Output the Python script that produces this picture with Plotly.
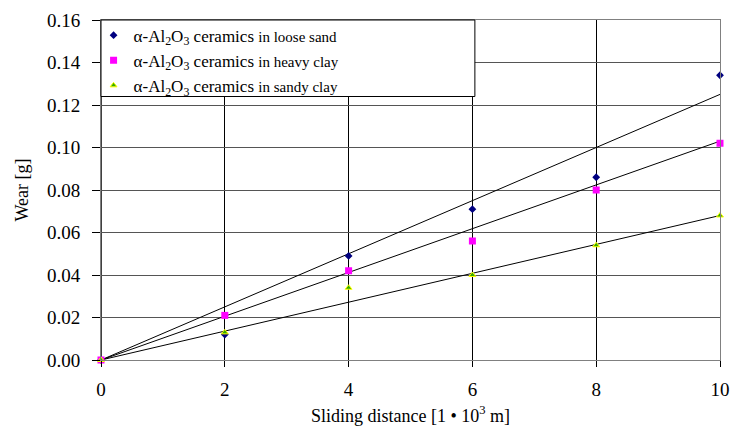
import plotly.graph_objects as go

distance = [0, 2, 4, 6, 8, 10]
loose_sand = [0.0, 0.012, 0.049, 0.071, 0.086, 0.134]
heavy_clay = [0.0, 0.021, 0.042, 0.056, 0.080, 0.102]
sandy_clay = [0.0, 0.013, 0.034, 0.040, 0.054, 0.068]

trend_x = [0, 10]
trend_loose = [0.0, 0.125]
trend_heavy = [0.0, 0.103]
trend_sandy = [0.0, 0.068]

y_ticks = [0.00, 0.02, 0.04, 0.06, 0.08, 0.10, 0.12, 0.14, 0.16]
x_ticks = [0, 2, 4, 6, 8, 10]

FONT = "Liberation Serif"

def label(where):
    return ("α-Al<sub>2</sub>O<sub>3</sub> ceramics "
            f"<span style='font-size:15px'>{where}</span>")

fig = go.Figure()

for ty in (trend_loose, trend_heavy, trend_sandy):
    fig.add_trace(go.Scatter(x=trend_x, y=ty, mode="lines",
                             line=dict(color="black", width=1),
                             showlegend=False, hoverinfo="skip"))

fig.add_trace(go.Scatter(x=distance, y=loose_sand, mode="markers",
                         name=label("in loose sand"), cliponaxis=False,
                         marker=dict(symbol="diamond", size=6, color="#000080")))
fig.add_trace(go.Scatter(x=distance, y=heavy_clay, mode="markers",
                         name=label("in heavy clay"), cliponaxis=False,
                         marker=dict(symbol="square", size=7, color="#FF00FF")))
fig.add_trace(go.Scatter(x=distance, y=sandy_clay, mode="markers",
                         name=label("in sandy clay"), cliponaxis=False,
                         marker=dict(symbol="triangle-up", size=6, color="#33AA00",
                                     line=dict(color="#FFFF00", width=1))))

fig.update_layout(
    width=731, height=426,
    margin=dict(l=101, r=11, t=20, b=66, autoexpand=False),
    paper_bgcolor="white", plot_bgcolor="white",
    font=dict(family=FONT, size=18, color="black"),
    showlegend=True,
    legend=dict(x=-0.012, y=1.007, xanchor="left", yanchor="top",
                bgcolor="rgba(0,0,0,0)", borderwidth=0,
                font=dict(family=FONT, size=17, color="black"),
                tracegroupgap=0),
    shapes=[dict(type="rect", xref="paper", yref="paper",
                 x0=0.0, x1=0.604, y0=0.775, y1=1.0,
                 line=dict(color="black", width=1), fillcolor="white",
                 layer="above")],
)

fig.update_xaxes(range=[0, 10], tickvals=x_ticks, ticktext=[str(v) for v in x_ticks],
                 showgrid=True, gridcolor="black", gridwidth=1,
                 zeroline=False, showline=True, linecolor="#808080", linewidth=1, mirror=True,
                 ticks="outside", ticklen=6, tickcolor="black", ticklabelstandoff=6,
                 tickfont=dict(family=FONT, size=19, color="black"), automargin=False,
                 title=dict(text="Sliding distance [1 • 10<sup>3</sup> m]", standoff=12,
                            font=dict(family=FONT, size=18, color="black")))
fig.update_yaxes(range=[0, 0.16], tickvals=y_ticks, ticktext=[f"{v:.2f}" for v in y_ticks],
                 showgrid=True, gridcolor="#555555", gridwidth=1.3,
                 zeroline=True, zerolinecolor="black", zerolinewidth=1,
                 showline=True, linecolor="#808080", linewidth=1, mirror=True,
                 ticks="outside", ticklen=8, tickcolor="black", ticklabelstandoff=8,
                 tickfont=dict(family=FONT, size=19, color="black"), automargin=False,
                 title=dict(text="Wear [g]", standoff=13,
                            font=dict(family=FONT, size=18, color="black")))

# black left axis line
fig.add_vline(x=0, line=dict(color="black", width=1.5), layer="below")

# remove the default page margin so the 731x426 figure fills the window exactly
fig.write_html("out.html", config={"displayModeBar": False},
               post_script="document.body.style.margin='0';")
